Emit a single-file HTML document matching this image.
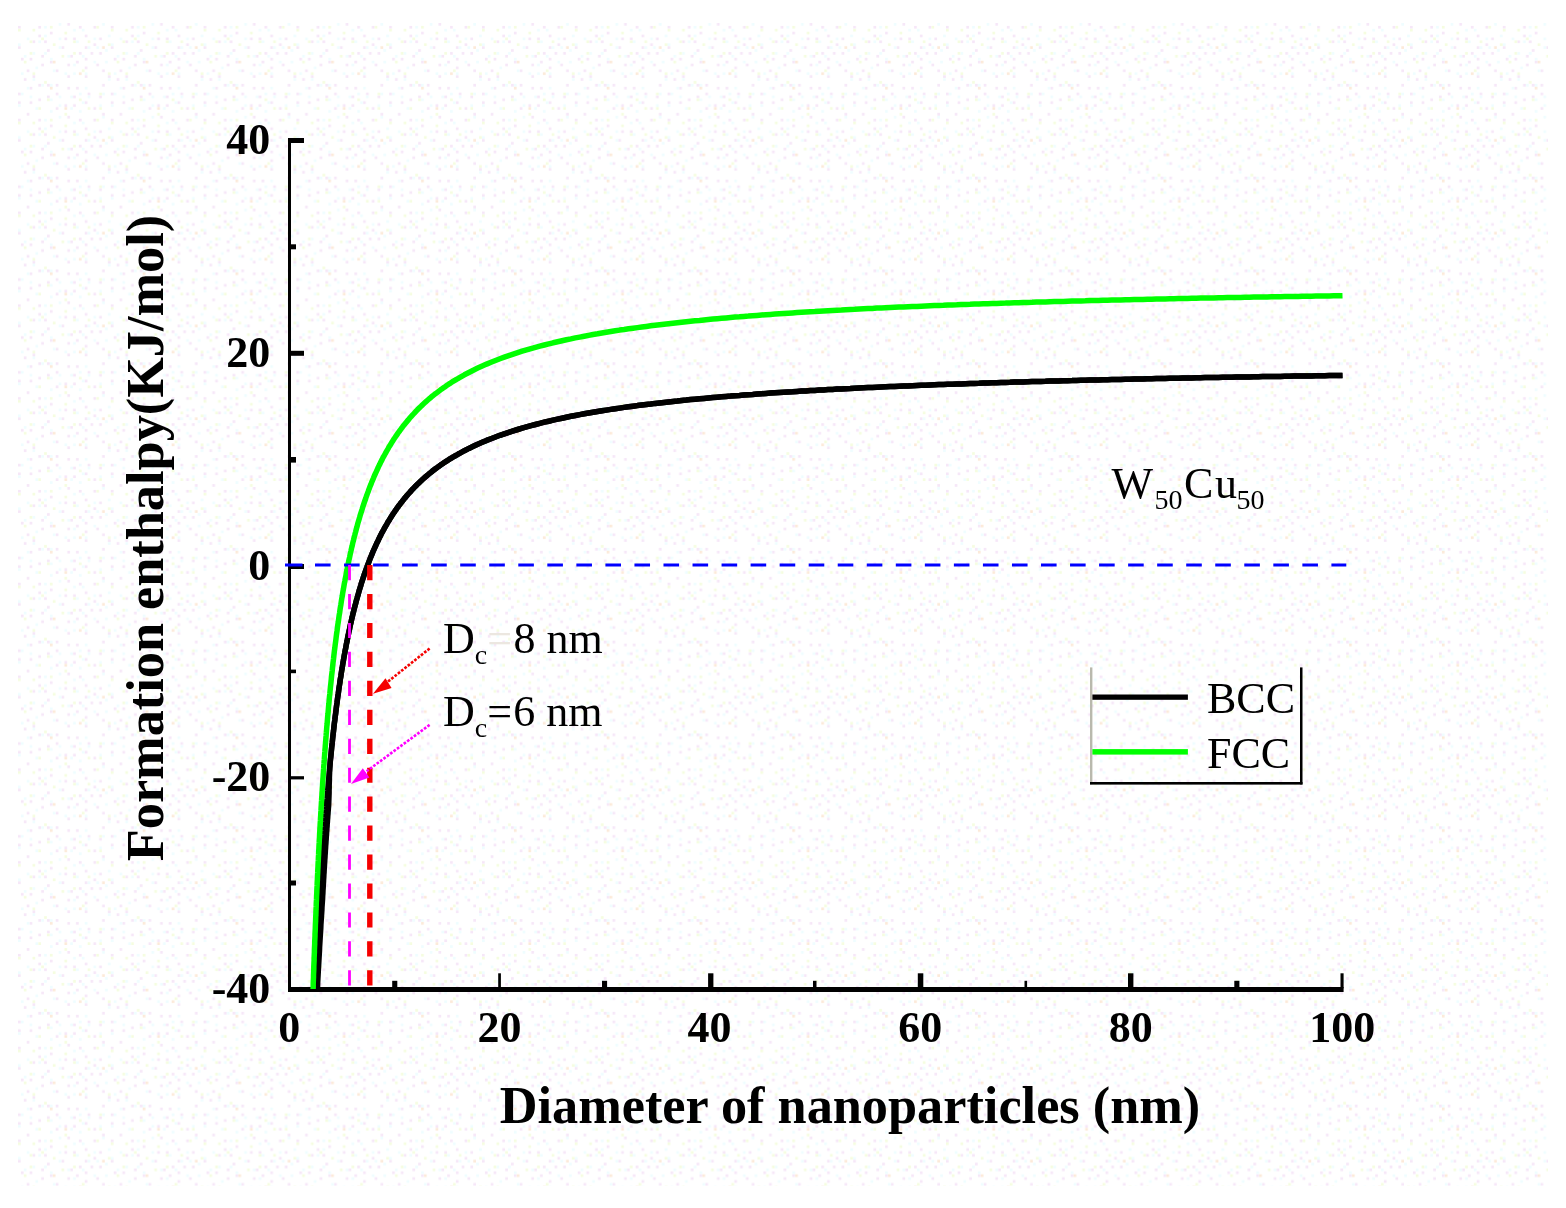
<!DOCTYPE html>
<html lang="en"><head><meta charset="utf-8"><title>Formation enthalpy vs diameter of nanoparticles</title>
<style>
html,body{margin:0;padding:0;background:#fff;}
body{width:1566px;height:1208px;overflow:hidden;}
svg{display:block;font-family:"Liberation Serif",serif;}
.tk{font-size:44px;font-weight:bold;fill:#000;}
.tt{font-size:52.3px;font-weight:bold;fill:#000;}
.an{font-size:44px;fill:#000;}
.sb{font-size:28px;}
</style></head><body>
<svg width="1566" height="1208" viewBox="0 0 1566 1208">
<defs><pattern id="nz" width="92.8" height="92.8" patternUnits="userSpaceOnUse" x="18" y="23"><rect x="66.7" y="43.5" width="2.7" height="2.7" fill="#f6e7f8"/><rect x="46.4" y="81.2" width="2.7" height="2.7" fill="#f6e7f8"/><rect x="14.5" y="52.2" width="2.7" height="2.7" fill="#f6e7f8"/><rect x="75.4" y="2.9" width="2.7" height="2.7" fill="#f6e7f8"/><rect x="81.2" y="72.5" width="2.7" height="2.7" fill="#f6e7f8"/><rect x="20.3" y="2.9" width="2.7" height="2.7" fill="#f6e7f8"/><rect x="75.4" y="84.1" width="2.7" height="2.7" fill="#f6e7f8"/><rect x="2.9" y="34.8" width="2.7" height="2.7" fill="#f6e7f8"/><rect x="20.3" y="75.4" width="2.7" height="2.7" fill="#f6e7f8"/><rect x="26.1" y="17.4" width="2.7" height="2.7" fill="#f6e7f8"/><rect x="84.1" y="89.9" width="2.7" height="2.7" fill="#f6e7f8"/><rect x="0.0" y="23.2" width="2.7" height="2.7" fill="#f6e7f8"/><rect x="66.7" y="78.3" width="2.7" height="2.7" fill="#f6e7f8"/><rect x="37.7" y="46.4" width="2.7" height="2.7" fill="#f6e7f8"/><rect x="46.4" y="14.5" width="2.7" height="2.7" fill="#f6e7f8"/><rect x="69.6" y="69.6" width="2.7" height="2.7" fill="#f6e7f8"/><rect x="49.3" y="63.8" width="2.7" height="2.7" fill="#f6e7f8"/><rect x="78.3" y="40.6" width="2.7" height="2.7" fill="#f6e7f8"/><rect x="29.0" y="60.9" width="2.7" height="2.7" fill="#f6e7f8"/><rect x="49.3" y="0.0" width="2.7" height="2.7" fill="#f6e7f8"/><rect x="52.2" y="31.9" width="2.7" height="2.7" fill="#f6e7f8"/><rect x="23.2" y="31.9" width="2.7" height="2.7" fill="#f6e7f8"/><rect x="11.6" y="78.3" width="2.7" height="2.7" fill="#f6e7f8"/><rect x="72.5" y="29.0" width="2.7" height="2.7" fill="#f6e7f8"/><rect x="0.0" y="69.6" width="2.7" height="2.7" fill="#f6e7f8"/><rect x="58.0" y="63.8" width="2.7" height="2.7" fill="#f6e7f8"/><rect x="20.3" y="11.6" width="2.7" height="2.7" fill="#f6e7f8"/><rect x="55.1" y="72.5" width="2.7" height="2.7" fill="#f6e7f8"/><rect x="37.7" y="60.9" width="2.7" height="2.7" fill="#f6e7f8"/><rect x="66.7" y="11.6" width="2.7" height="2.7" fill="#f6e7f8"/><rect x="66.7" y="34.8" width="2.7" height="2.7" fill="#f6e7f8"/><rect x="58.0" y="37.7" width="2.7" height="2.7" fill="#f6e7f8"/><rect x="14.5" y="17.4" width="2.7" height="2.7" fill="#f6e7f8"/><rect x="84.1" y="60.9" width="2.7" height="2.7" fill="#f6e7f8"/><rect x="31.9" y="37.7" width="2.7" height="2.7" fill="#f6e7f8"/><rect x="49.3" y="40.6" width="2.7" height="2.7" fill="#f6e7f8"/><rect x="37.7" y="84.1" width="2.7" height="2.7" fill="#f6e7f8"/><rect x="31.9" y="8.7" width="2.7" height="2.7" fill="#f6e7f8"/><rect x="0.0" y="2.9" width="2.7" height="2.7" fill="#f6e7f8"/><rect x="49.3" y="52.2" width="2.7" height="2.7" fill="#f6e7f8"/><rect x="43.5" y="23.2" width="2.7" height="2.7" fill="#f6e7f8"/><rect x="11.6" y="34.8" width="2.7" height="2.7" fill="#f6e7f8"/><rect x="8.7" y="46.4" width="2.7" height="2.7" fill="#f6e7f8"/><rect x="66.7" y="23.2" width="2.7" height="2.7" fill="#f6e7f8"/><rect x="75.4" y="20.3" width="2.7" height="2.7" fill="#f6e7f8"/><rect x="29.0" y="72.5" width="2.7" height="2.7" fill="#f6e7f8"/><rect x="5.8" y="55.1" width="2.7" height="2.7" fill="#f6e7f8"/><rect x="37.7" y="69.6" width="2.7" height="2.7" fill="#f6e7f8"/><rect x="81.2" y="29.0" width="2.7" height="2.7" fill="#f6e7f8"/><rect x="0.0" y="78.3" width="2.7" height="2.7" fill="#f6e7f8"/><rect x="89.9" y="52.2" width="2.7" height="2.7" fill="#f6e7f8"/><rect x="81.2" y="14.5" width="2.7" height="2.7" fill="#f6e7f8"/><rect x="84.1" y="46.4" width="2.7" height="2.7" fill="#f6e7f8"/><rect x="60.9" y="29.0" width="2.7" height="2.7" fill="#f6e7f8"/><rect x="8.7" y="89.9" width="2.7" height="2.7" fill="#f6e7f8"/><rect x="29.0" y="26.1" width="2.7" height="2.7" fill="#f6e7f8"/><rect x="55.1" y="14.5" width="2.7" height="2.7" fill="#f6e7f8"/><rect x="23.2" y="40.6" width="2.7" height="2.7" fill="#f6e7f8"/><rect x="11.6" y="63.8" width="2.7" height="2.7" fill="#f6e7f8"/><rect x="66.7" y="52.2" width="2.7" height="2.7" fill="#f6e7f8"/><rect x="55.1" y="81.2" width="2.7" height="2.7" fill="#f6e7f8"/><rect x="20.3" y="60.9" width="2.7" height="2.7" fill="#f6e7f8"/><rect x="60.9" y="2.9" width="2.7" height="2.7" fill="#f6e7f8"/><rect x="55.1" y="49.3" width="2.7" height="2.7" fill="#effdff"/><rect x="14.5" y="55.1" width="2.7" height="2.7" fill="#effdff"/><rect x="75.4" y="37.7" width="2.7" height="2.7" fill="#effdff"/><rect x="40.6" y="72.5" width="2.7" height="2.7" fill="#effdff"/><rect x="84.1" y="0.0" width="2.7" height="2.7" fill="#effdff"/><rect x="8.7" y="63.8" width="2.7" height="2.7" fill="#effdff"/><rect x="46.4" y="49.3" width="2.7" height="2.7" fill="#effdff"/><rect x="87.0" y="26.1" width="2.7" height="2.7" fill="#effdff"/><rect x="8.7" y="14.5" width="2.7" height="2.7" fill="#effdff"/><rect x="60.9" y="69.6" width="2.7" height="2.7" fill="#effdff"/><rect x="34.8" y="46.4" width="2.7" height="2.7" fill="#effdff"/><rect x="26.1" y="29.0" width="2.7" height="2.7" fill="#effdff"/><rect x="78.3" y="23.2" width="2.7" height="2.7" fill="#effdff"/><rect x="2.9" y="69.6" width="2.7" height="2.7" fill="#effdff"/><rect x="89.9" y="11.6" width="2.7" height="2.7" fill="#effdff"/><rect x="66.7" y="49.3" width="2.7" height="2.7" fill="#effdff"/><rect x="17.4" y="84.1" width="2.7" height="2.7" fill="#effdff"/><rect x="31.9" y="87.0" width="2.7" height="2.7" fill="#effdff"/><rect x="87.0" y="37.7" width="2.7" height="2.7" fill="#effdff"/><rect x="58.0" y="17.4" width="2.7" height="2.7" fill="#effdff"/><rect x="31.9" y="34.8" width="2.7" height="2.7" fill="#effdff"/><rect x="49.3" y="31.9" width="2.7" height="2.7" fill="#effdff"/><rect x="31.9" y="60.9" width="2.7" height="2.7" fill="#effdff"/><rect x="55.1" y="5.8" width="2.7" height="2.7" fill="#effdff"/><rect x="26.1" y="11.6" width="2.7" height="2.7" fill="#effdff"/><rect x="52.2" y="84.1" width="2.7" height="2.7" fill="#effdff"/><rect x="84.1" y="69.6" width="2.7" height="2.7" fill="#effdff"/><rect x="75.4" y="14.5" width="2.7" height="2.7" fill="#effdff"/><rect x="20.3" y="17.4" width="2.7" height="2.7" fill="#effdff"/><rect x="5.8" y="31.9" width="2.7" height="2.7" fill="#effdff"/><rect x="63.8" y="78.3" width="2.7" height="2.7" fill="#effdff"/><rect x="63.8" y="31.9" width="2.7" height="2.7" fill="#effdff"/><rect x="40.6" y="23.2" width="2.7" height="2.7" fill="#effdff"/><rect x="17.4" y="43.5" width="2.7" height="2.7" fill="#effdff"/><rect x="81.2" y="81.2" width="2.7" height="2.7" fill="#effdff"/><rect x="55.1" y="40.6" width="2.7" height="2.7" fill="#effdff"/><rect x="23.2" y="60.9" width="2.7" height="2.7" fill="#effdff"/><rect x="26.1" y="2.9" width="2.7" height="2.7" fill="#effdff"/><rect x="89.9" y="55.1" width="2.7" height="2.7" fill="#effdff"/><rect x="40.6" y="14.5" width="2.7" height="2.7" fill="#effdff"/><rect x="31.9" y="75.4" width="2.7" height="2.7" fill="#effdff"/><rect x="52.2" y="72.5" width="2.7" height="2.7" fill="#effdff"/><rect x="63.8" y="5.8" width="2.7" height="2.7" fill="#effdff"/><rect x="69.6" y="72.5" width="2.7" height="2.7" fill="#effdff"/><rect x="69.6" y="23.2" width="2.7" height="2.7" fill="#effdff"/><rect x="14.5" y="29.0" width="2.7" height="2.7" fill="#effdff"/><rect x="40.6" y="0.0" width="2.7" height="2.7" fill="#effdff"/><rect x="11.6" y="72.5" width="2.7" height="2.7" fill="#effdff"/><rect x="66.7" y="63.8" width="2.7" height="2.7" fill="#effdff"/><rect x="60.9" y="87.0" width="2.7" height="2.7" fill="#effdff"/><rect x="40.6" y="81.2" width="2.7" height="2.7" fill="#effdff"/><rect x="0.0" y="81.2" width="2.7" height="2.7" fill="#effdff"/><rect x="2.9" y="49.3" width="2.7" height="2.7" fill="#effdff"/><rect x="0.0" y="20.3" width="2.7" height="2.7" fill="#effdff"/><rect x="89.9" y="49.3" width="2.7" height="2.7" fill="#f5fde0"/><rect x="81.2" y="69.6" width="2.7" height="2.7" fill="#f5fde0"/><rect x="5.8" y="37.7" width="2.7" height="2.7" fill="#f5fde0"/><rect x="14.5" y="5.8" width="2.7" height="2.7" fill="#f5fde0"/><rect x="11.6" y="29.0" width="2.7" height="2.7" fill="#f5fde0"/><rect x="46.4" y="8.7" width="2.7" height="2.7" fill="#f5fde0"/><rect x="55.1" y="17.4" width="2.7" height="2.7" fill="#f5fde0"/><rect x="63.8" y="46.4" width="2.7" height="2.7" fill="#f5fde0"/><rect x="23.2" y="14.5" width="2.7" height="2.7" fill="#f5fde0"/><rect x="60.9" y="75.4" width="2.7" height="2.7" fill="#f5fde0"/><rect x="69.6" y="84.1" width="2.7" height="2.7" fill="#f5fde0"/><rect x="0.0" y="5.8" width="2.7" height="2.7" fill="#f5fde0"/><rect x="81.2" y="84.1" width="2.7" height="2.7" fill="#f5fde0"/><rect x="46.4" y="89.9" width="2.7" height="2.7" fill="#f5fde0"/><rect x="26.1" y="58.0" width="2.7" height="2.7" fill="#f5fde0"/><rect x="11.6" y="17.4" width="2.7" height="2.7" fill="#f5fde0"/><rect x="78.3" y="2.9" width="2.7" height="2.7" fill="#f5fde0"/><rect x="43.5" y="31.9" width="2.7" height="2.7" fill="#f5fde0"/><rect x="55.1" y="29.0" width="2.7" height="2.7" fill="#f5fde0"/><rect x="20.3" y="84.1" width="2.7" height="2.7" fill="#f5fde0"/><rect x="31.9" y="2.9" width="2.7" height="2.7" fill="#f5fde0"/><rect x="69.6" y="17.4" width="2.7" height="2.7" fill="#f5fde0"/><rect x="14.5" y="49.3" width="2.7" height="2.7" fill="#f5fde0"/><rect x="89.9" y="20.3" width="2.7" height="2.7" fill="#f5fde0"/><rect x="29.0" y="75.4" width="2.7" height="2.7" fill="#f5fde0"/><rect x="34.8" y="20.3" width="2.7" height="2.7" fill="#f5fde0"/><rect x="31.9" y="63.8" width="2.7" height="2.7" fill="#fcead9"/><rect x="34.8" y="37.7" width="2.7" height="2.7" fill="#fcead9"/><rect x="60.9" y="49.3" width="2.7" height="2.7" fill="#fcead9"/><rect x="46.4" y="84.1" width="2.7" height="2.7" fill="#fcead9"/><rect x="84.1" y="23.2" width="2.7" height="2.7" fill="#fcead9"/></pattern></defs>
<rect x="0" y="0" width="1566" height="1208" fill="#fff"/>
<rect x="18" y="23" width="1530" height="1163" fill="url(#nz)"/>
<g fill="#000">
<rect x="288" y="138" width="3" height="854"/>
<rect x="288" y="987" width="1055.6" height="5"/>
<rect x="288" y="138.0" width="16" height="5"/>
<rect x="288" y="350.8" width="16" height="5"/>
<rect x="288" y="564.0" width="16" height="5"/>
<rect x="288" y="776.2" width="16" height="3.2"/>
<rect x="288" y="244.3" width="8" height="5"/>
<rect x="288" y="457.0" width="8" height="5.6"/>
<rect x="288" y="669.6" width="8" height="3.6"/>
<rect x="288" y="880.5" width="8" height="5"/>
<rect x="498.2" y="973.3" width="2.7" height="15"/>
<rect x="708.1" y="973.3" width="5.3" height="15"/>
<rect x="917.8" y="973.3" width="5.5" height="15"/>
<rect x="1128" y="973.3" width="5.4" height="15"/>
<rect x="1340.5" y="973.3" width="3.1" height="15"/>
<rect x="392.2" y="980.8" width="5.1" height="8"/>
<rect x="602" y="980.8" width="5.1" height="8"/>
<rect x="813" y="980.8" width="3.5" height="8"/>
<rect x="1024.5" y="980.8" width="2.6" height="8"/>
<rect x="1234.3" y="980.8" width="5.1" height="8"/>
</g>
<text class="tk" x="270.3" y="153.5" text-anchor="end">40</text>
<text class="tk" x="270.3" y="366.5" text-anchor="end">20</text>
<text class="tk" x="270.3" y="579.5" text-anchor="end">0</text>
<text class="tk" x="270.3" y="790.7" text-anchor="end">-20</text>
<text class="tk" x="270.3" y="1002.5" text-anchor="end">-40</text>
<text class="tk" x="289.3" y="1042" text-anchor="middle">0</text>
<text class="tk" x="499.5" y="1042" text-anchor="middle">20</text>
<text class="tk" x="709.5" y="1042" text-anchor="middle">40</text>
<text class="tk" x="920.3" y="1042" text-anchor="middle">60</text>
<text class="tk" x="1130.7" y="1042" text-anchor="middle">80</text>
<text class="tk" x="1342.3" y="1042" text-anchor="middle">100</text>
<text class="tt" x="850" y="1122.8" text-anchor="middle">Diameter of nanoparticles (nm)</text>
<text class="tt" transform="translate(162.5 538) rotate(-90)" text-anchor="middle">Formation enthalpy(KJ/mol)</text>
<path d="M316.2,989.0 L316.3,985.9 L316.5,982.1 L316.6,978.4 L316.8,974.8 L316.9,971.2 L317.1,967.6 L317.2,964.1 L317.4,960.6 L317.5,957.2 L317.7,953.8 L317.8,950.4 L318.0,947.1 L318.1,943.8 L318.3,940.5 L318.4,937.3 L318.6,934.1 L318.7,931.0 L318.9,927.8 L319.0,924.8 L319.2,921.7 L319.3,918.7 L319.5,915.7 L319.6,912.8 L319.8,909.9 L319.9,907.0 L320.1,904.1 L320.2,901.3 L320.4,898.5 L320.5,895.7 L320.7,893.0 L320.8,890.3 L321.0,887.6 L321.1,884.9 L321.3,882.3 L321.4,879.7 L321.6,877.1 L321.7,874.5 L321.9,872.0 L322.0,869.5 L322.2,867.0 L322.3,864.6 L322.5,862.1 L322.6,859.7 L322.8,857.3 L322.9,855.0 L323.1,852.6 L323.2,850.3 L323.4,848.0 L323.5,845.7 L323.7,843.5 L323.8,841.2 L324.0,839.0 L324.1,836.8 L324.3,834.7 L324.4,832.5 L324.6,830.4 L324.7,828.3 L324.9,826.2 L325.0,824.1 L325.2,822.0 L325.3,820.0 L325.5,818.0 L325.6,816.0 L325.8,814.0 L325.9,812.0 L326.1,810.0 L326.2,808.1 L326.4,806.2 L326.5,804.3 L326.7,802.4 L326.8,800.5 L327.0,798.7 L327.2,795.9 L327.4,793.2 L327.7,790.5 L327.9,787.9 L328.1,785.2 L328.3,782.6 L328.6,780.1 L328.8,777.6 L329.0,775.1 L329.2,772.6 L329.5,770.2 L329.7,767.7 L329.9,765.4 L330.4,760.1 L330.9,755.7 L331.3,751.4 L331.7,747.2 L332.2,743.1 L332.6,739.0 L333.0,735.1 L333.5,731.2 L333.9,727.4 L334.3,723.7 L334.8,720.1 L335.2,716.5 L335.7,713.0 L336.1,709.6 L336.5,706.2 L337.0,702.9 L337.4,699.7 L337.8,696.5 L338.3,693.4 L338.7,690.4 L339.1,687.4 L339.6,684.4 L340.0,681.5 L340.4,678.7 L340.9,675.9 L341.3,673.1 L341.7,670.4 L342.2,667.8 L342.6,665.2 L343.0,662.6 L343.5,660.1 L343.9,657.6 L344.3,655.2 L344.8,652.8 L345.2,650.4 L345.7,648.1 L346.1,645.8 L346.5,643.6 L347.0,641.4 L347.4,639.2 L347.8,637.0 L348.3,634.9 L348.7,632.8 L349.1,630.8 L349.6,628.8 L350.0,626.8 L350.4,624.8 L350.9,622.9 L351.3,621.0 L351.7,619.1 L352.2,617.3 L352.6,615.4 L353.0,613.6 L353.5,611.9 L353.9,610.1 L354.3,608.4 L354.8,606.7 L355.2,605.0 L355.7,603.4 L356.1,601.7 L356.5,600.1 L357.0,598.5 L357.4,597.0 L358.3,593.9 L359.1,590.9 L360.0,588.0 L360.9,585.1 L361.7,582.3 L362.6,579.6 L363.5,577.0 L364.3,574.4 L365.2,571.9 L366.1,569.4 L367.0,567.0 L367.8,564.7 L368.7,562.4 L369.6,560.1 L370.4,557.9 L371.3,555.8 L372.2,553.7 L373.0,551.6 L373.9,549.6 L374.8,547.6 L375.7,545.7 L376.5,543.8 L377.4,542.0 L378.3,540.2 L379.1,538.4 L380.0,536.6 L380.9,534.9 L381.7,533.2 L382.6,531.6 L383.5,530.0 L384.3,528.4 L385.2,526.8 L386.1,525.3 L387.0,523.8 L387.8,522.3 L388.7,520.9 L389.6,519.5 L390.4,518.1 L391.3,516.7 L392.2,515.3 L393.0,514.0 L393.9,512.7 L394.8,511.4 L395.7,510.2 L396.5,508.9 L397.4,507.7 L398.3,506.5 L399.1,505.3 L400.0,504.2 L400.9,503.0 L402.2,501.4 L403.5,499.7 L404.8,498.1 L406.1,496.6 L407.4,495.0 L408.7,493.5 L410.0,492.1 L411.3,490.6 L412.6,489.2 L413.9,487.9 L415.2,486.5 L416.5,485.2 L417.8,483.9 L419.1,482.7 L420.4,481.4 L421.7,480.2 L423.0,479.0 L424.3,477.9 L425.7,476.7 L427.0,475.6 L428.3,474.5 L429.6,473.4 L430.9,472.4 L432.2,471.3 L433.5,470.3 L434.8,469.3 L436.1,468.3 L437.4,467.4 L438.7,466.4 L440.0,465.5 L441.3,464.6 L442.6,463.7 L443.9,462.8 L445.2,461.9 L446.5,461.1 L447.8,460.3 L449.1,459.4 L450.4,458.6 L451.7,457.8 L453.0,457.0 L454.3,456.3 L455.7,455.5 L457.0,454.8 L458.3,454.0 L459.6,453.3 L464.4,450.7 L468.9,448.4 L473.3,446.3 L477.7,444.2 L482.2,442.3 L486.6,440.4 L491.0,438.7 L495.5,437.0 L499.9,435.3 L504.3,433.8 L508.8,432.3 L513.2,430.9 L517.7,429.5 L522.1,428.1 L526.5,426.9 L531.0,425.6 L535.4,424.5 L539.8,423.3 L544.3,422.2 L548.7,421.2 L553.1,420.1 L557.6,419.1 L562.0,418.2 L566.4,417.2 L570.9,416.3 L575.3,415.5 L579.7,414.6 L584.2,413.8 L588.6,413.0 L593.0,412.2 L597.5,411.5 L601.9,410.8 L606.3,410.1 L610.8,409.4 L615.2,408.7 L619.6,408.1 L624.1,407.4 L628.5,406.8 L633.0,406.2 L637.4,405.6 L641.8,405.1 L646.3,404.5 L650.7,404.0 L655.1,403.4 L659.6,402.9 L664.0,402.4 L668.4,401.9 L672.9,401.4 L677.3,401.0 L681.7,400.5 L686.2,400.1 L690.6,399.6 L695.0,399.2 L699.5,398.8 L703.9,398.4 L708.3,398.0 L712.8,397.6 L717.2,397.2 L721.6,396.8 L726.1,396.4 L730.5,396.1 L734.9,395.7 L739.4,395.4 L743.8,395.0 L748.3,394.7 L752.7,394.4 L757.1,394.0 L761.6,393.7 L766.0,393.4 L770.4,393.1 L774.9,392.8 L779.3,392.5 L783.7,392.2 L788.2,391.9 L792.6,391.7 L797.0,391.4 L801.5,391.1 L805.9,390.9 L810.3,390.6 L814.8,390.4 L819.2,390.1 L823.6,389.9 L828.1,389.6 L832.5,389.4 L836.9,389.1 L841.4,388.9 L845.8,388.7 L850.3,388.5 L854.7,388.2 L859.1,388.0 L863.6,387.8 L868.0,387.6 L872.4,387.4 L876.9,387.2 L881.3,387.0 L885.7,386.8 L890.2,386.6 L894.6,386.4 L899.0,386.2 L903.5,386.0 L907.9,385.9 L912.3,385.7 L916.8,385.5 L921.2,385.3 L925.6,385.2 L930.1,385.0 L934.5,384.8 L938.9,384.6 L943.4,384.5 L947.8,384.3 L952.2,384.2 L956.7,384.0 L961.1,383.9 L965.6,383.7 L970.0,383.5 L974.4,383.4 L978.9,383.3 L983.3,383.1 L987.7,383.0 L992.2,382.8 L996.6,382.7 L1001.0,382.5 L1005.5,382.4 L1009.9,382.3 L1014.3,382.1 L1018.8,382.0 L1023.2,381.9 L1027.6,381.8 L1032.1,381.6 L1036.5,381.5 L1040.9,381.4 L1045.4,381.3 L1049.8,381.1 L1054.2,381.0 L1058.7,380.9 L1063.1,380.8 L1067.6,380.7 L1072.0,380.6 L1076.4,380.4 L1080.9,380.3 L1085.3,380.2 L1089.7,380.1 L1094.2,380.0 L1098.6,379.9 L1103.0,379.8 L1107.5,379.7 L1111.9,379.6 L1116.3,379.5 L1120.8,379.4 L1125.2,379.3 L1129.6,379.2 L1134.1,379.1 L1138.5,379.0 L1142.9,378.9 L1147.4,378.8 L1151.8,378.7 L1156.2,378.6 L1160.7,378.5 L1165.1,378.4 L1169.5,378.3 L1174.0,378.2 L1178.4,378.2 L1182.9,378.1 L1187.3,378.0 L1191.7,377.9 L1196.2,377.8 L1200.6,377.7 L1205.0,377.6 L1209.5,377.6 L1213.9,377.5 L1218.3,377.4 L1222.8,377.3 L1227.2,377.2 L1231.6,377.2 L1236.1,377.1 L1240.5,377.0 L1244.9,376.9 L1249.4,376.9 L1253.8,376.8 L1258.2,376.7 L1262.7,376.6 L1267.1,376.6 L1271.5,376.5 L1276.0,376.4 L1280.4,376.4 L1284.8,376.3 L1289.3,376.2 L1293.7,376.1 L1298.2,376.1 L1302.6,376.0 L1307.0,375.9 L1311.5,375.9 L1315.9,375.8 L1320.3,375.7 L1324.8,375.7 L1329.2,375.6 L1333.6,375.5 L1338.1,375.5 L1342.5,375.4 L1342.5,375.4" fill="none" stroke="#000" stroke-width="5.5" stroke-linejoin="round"/>
<path d="M317.4,989.0 L317.6,985.9 L317.7,982.1 L317.9,978.4 L318.1,974.8 L318.3,971.2 L318.5,967.6 L318.7,964.1 L318.9,960.6 L319.1,957.2 L319.3,953.8 L319.5,950.4 L319.6,947.1 L319.8,943.8 L320.0,940.5 L320.2,937.3 L320.4,934.1 L320.6,931.0 L320.8,927.8 L320.9,924.8 L321.1,921.7 L321.3,918.7 L321.5,915.7 L321.7,912.8 L321.9,909.9 L322.0,907.0 L322.2,904.1 L322.4,901.3 L322.6,898.5 L322.7,895.7 L322.9,893.0 L323.0,890.3 L323.2,887.6 L323.3,884.9 L323.5,882.3 L323.6,879.7 L323.8,877.1 L323.9,874.5 L324.1,872.0 L324.2,869.5 L324.4,867.0 L324.5,864.6 L324.7,862.1 L324.8,859.7 L325.0,857.3 L325.1,855.0 L325.3,852.6 L325.4,850.3 L325.6,848.0 L325.7,845.7 L325.9,843.5 L326.0,841.2 L326.2,839.0 L326.3,836.8 L326.5,834.7 L326.6,832.5 L326.8,830.4 L326.9,828.3 L327.1,826.2 L327.2,824.1 L327.4,822.0 L327.5,820.0 L327.7,818.0 L327.8,816.0 L328.0,814.0 L328.1,812.0 L328.3,810.0 L328.4,808.1 L328.6,806.2 L328.7,804.3 L328.8,801.5 L328.9,798.7 L329.0,795.9 L329.1,793.2 L329.1,790.5 L329.2,787.9 L329.2,785.2 L329.3,782.6 L329.4,780.1 L329.4,777.6 L329.5,775.1 L329.6,772.6 L329.7,770.2 L329.8,767.7 L330.0,765.4 L330.4,760.1 L330.9,755.7 L331.3,751.4 L331.7,747.2 L332.2,743.1 L332.6,739.0 L333.0,735.1 L333.5,731.2 L333.9,727.4 L334.3,723.7 L334.8,720.1 L335.2,716.5 L335.7,713.0 L336.1,709.6 L336.5,706.2 L337.0,702.9 L337.4,699.7 L337.8,696.5 L338.3,693.4 L338.7,690.4 L339.1,687.4 L339.6,684.4 L340.0,681.5 L340.4,678.7 L340.9,675.9 L341.3,673.1 L341.7,670.4 L342.2,667.8 L342.6,665.2 L343.0,662.6 L343.5,660.1 L343.9,657.6 L344.3,655.2 L344.8,652.8 L345.2,650.4 L345.7,648.1 L346.1,645.8 L346.5,643.6 L347.0,641.4 L347.4,639.2 L347.8,637.0 L348.3,634.9 L348.7,632.8 L349.1,630.8 L349.6,628.8 L350.0,626.8 L350.4,624.8 L350.9,622.9 L351.3,621.0 L351.7,619.1 L352.2,617.3 L352.6,615.4 L353.0,613.6 L353.5,611.9 L353.9,610.1 L354.3,608.4 L354.8,606.7 L355.2,605.0 L355.7,603.4 L356.1,601.7 L356.5,600.1 L357.0,598.5 L357.4,597.0 L358.3,593.9 L359.1,590.9 L360.0,588.0 L360.9,585.1 L361.7,582.3 L362.6,579.6 L363.5,577.0 L364.3,574.4 L365.2,571.9 L366.1,569.4 L367.0,567.0 L367.8,564.7 L368.7,562.4 L369.6,560.1 L370.4,557.9 L371.3,555.8 L372.2,553.7 L373.0,551.6 L373.9,549.6 L374.8,547.6 L375.7,545.7 L376.5,543.8 L377.4,542.0 L378.3,540.2 L379.1,538.4 L380.0,536.6 L380.9,534.9 L381.7,533.2 L382.6,531.6 L383.5,530.0 L384.3,528.4 L385.2,526.8 L386.1,525.3 L387.0,523.8 L387.8,522.3 L388.7,520.9 L389.6,519.5 L390.4,518.1 L391.3,516.7 L392.2,515.3 L393.0,514.0 L393.9,512.7 L394.8,511.4 L395.7,510.2 L396.5,508.9 L397.4,507.7 L398.3,506.5 L399.1,505.3 L400.0,504.2 L400.9,503.0 L402.2,501.4 L403.5,499.7 L404.8,498.1 L406.1,496.6 L407.4,495.0 L408.7,493.5 L410.0,492.1 L411.3,490.6 L412.6,489.2 L413.9,487.9 L415.2,486.5 L416.5,485.2 L417.8,483.9 L419.1,482.7 L420.4,481.4 L421.7,480.2 L423.0,479.0 L424.3,477.9 L425.7,476.7 L427.0,475.6 L428.3,474.5 L429.6,473.4 L430.9,472.4 L432.2,471.3 L433.5,470.3 L434.8,469.3 L436.1,468.3 L437.4,467.4 L438.7,466.4 L440.0,465.5 L441.3,464.6 L442.6,463.7 L443.9,462.8 L445.2,461.9 L446.5,461.1 L447.8,460.3 L449.1,459.4 L450.4,458.6 L451.7,457.8 L453.0,457.0 L454.3,456.3 L455.7,455.5 L457.0,454.8 L458.3,454.0 L459.6,453.3 L464.4,450.7 L468.9,448.4 L473.3,446.3 L477.7,444.2 L482.2,442.3 L486.6,440.4 L491.0,438.7 L495.5,437.0 L499.9,435.3 L504.3,433.8 L508.8,432.3 L513.2,430.9 L517.7,429.5 L522.1,428.1 L526.5,426.9 L531.0,425.6 L535.4,424.5 L539.8,423.3 L544.3,422.2 L548.7,421.2 L553.1,420.1 L557.6,419.1 L562.0,418.2 L566.4,417.2 L570.9,416.3 L575.3,415.5 L579.7,414.6 L584.2,413.8 L588.6,413.0 L593.0,412.2 L597.5,411.5 L601.9,410.8 L606.3,410.1 L610.8,409.4 L615.2,408.7 L619.6,408.1 L624.1,407.4 L628.5,406.8 L633.0,406.2 L637.4,405.6 L641.8,405.1 L646.3,404.5 L650.7,404.0 L655.1,403.4 L659.6,402.9 L664.0,402.4 L668.4,401.9 L672.9,401.4 L677.3,401.0 L681.7,400.5 L686.2,400.1 L690.6,399.6 L695.0,399.2 L699.5,398.8 L703.9,398.4 L708.3,398.0 L712.8,397.6 L717.2,397.2 L721.6,396.8 L726.1,396.4 L730.5,396.1 L734.9,395.7 L739.4,395.4 L743.8,395.0 L748.3,394.7 L752.7,394.4 L757.1,394.0 L761.6,393.7 L766.0,393.4 L770.4,393.1 L774.9,392.8 L779.3,392.5 L783.7,392.2 L788.2,391.9 L792.6,391.7 L797.0,391.4 L801.5,391.1 L805.9,390.9 L810.3,390.6 L814.8,390.4 L819.2,390.1 L823.6,389.9 L828.1,389.6 L832.5,389.4 L836.9,389.1 L841.4,388.9 L845.8,388.7 L850.3,388.5 L854.7,388.2 L859.1,388.0 L863.6,387.8 L868.0,387.6 L872.4,387.4 L876.9,387.2 L881.3,387.0 L885.7,386.8 L890.2,386.6 L894.6,386.4 L899.0,386.2 L903.5,386.0 L907.9,385.9 L912.3,385.7 L916.8,385.5 L921.2,385.3 L925.6,385.2 L930.1,385.0 L934.5,384.8 L938.9,384.6 L943.4,384.5 L947.8,384.3 L952.2,384.2 L956.7,384.0 L961.1,383.9 L965.6,383.7 L970.0,383.5 L974.4,383.4 L978.9,383.3 L983.3,383.1 L987.7,383.0 L992.2,382.8 L996.6,382.7 L1001.0,382.5 L1005.5,382.4 L1009.9,382.3 L1014.3,382.1 L1018.8,382.0 L1023.2,381.9 L1027.6,381.8 L1032.1,381.6 L1036.5,381.5 L1040.9,381.4 L1045.4,381.3 L1049.8,381.1 L1054.2,381.0 L1058.7,380.9 L1063.1,380.8 L1067.6,380.7 L1072.0,380.6 L1076.4,380.4 L1080.9,380.3 L1085.3,380.2 L1089.7,380.1 L1094.2,380.0 L1098.6,379.9 L1103.0,379.8 L1107.5,379.7 L1111.9,379.6 L1116.3,379.5 L1120.8,379.4 L1125.2,379.3 L1129.6,379.2 L1134.1,379.1 L1138.5,379.0 L1142.9,378.9 L1147.4,378.8 L1151.8,378.7 L1156.2,378.6 L1160.7,378.5 L1165.1,378.4 L1169.5,378.3 L1174.0,378.2 L1178.4,378.2 L1182.9,378.1 L1187.3,378.0 L1191.7,377.9 L1196.2,377.8 L1200.6,377.7 L1205.0,377.6 L1209.5,377.6 L1213.9,377.5 L1218.3,377.4 L1222.8,377.3 L1227.2,377.2 L1231.6,377.2 L1236.1,377.1 L1240.5,377.0 L1244.9,376.9 L1249.4,376.9 L1253.8,376.8 L1258.2,376.7 L1262.7,376.6 L1267.1,376.6 L1271.5,376.5 L1276.0,376.4 L1280.4,376.4 L1284.8,376.3 L1289.3,376.2 L1293.7,376.1 L1298.2,376.1 L1302.6,376.0 L1307.0,375.9 L1311.5,375.9 L1315.9,375.8 L1320.3,375.7 L1324.8,375.7 L1329.2,375.6 L1333.6,375.5 L1338.1,375.5 L1342.5,375.4 L1342.5,375.4" fill="none" stroke="#000" stroke-width="5.5" stroke-linejoin="round"/>
<path d="M313.1,989.0 L313.2,986.4 L313.2,984.1 L313.3,981.9 L313.4,979.7 L313.5,977.5 L313.5,975.3 L313.6,973.1 L313.7,971.0 L313.8,968.8 L313.8,966.7 L313.9,964.5 L314.0,962.4 L314.1,960.3 L314.1,958.3 L314.2,956.2 L314.3,954.1 L314.4,952.1 L314.4,950.0 L314.5,948.0 L314.6,946.0 L314.7,944.0 L314.7,942.0 L314.8,940.1 L314.9,938.1 L315.0,936.1 L315.0,934.2 L315.1,932.3 L315.3,928.5 L315.4,924.7 L315.6,921.0 L315.7,917.3 L315.9,913.6 L316.0,910.0 L316.2,906.4 L316.3,902.9 L316.5,899.4 L316.6,896.0 L316.8,892.6 L316.9,889.2 L317.1,885.9 L317.2,882.6 L317.4,879.3 L317.5,876.1 L317.7,872.9 L317.8,869.7 L318.0,866.6 L318.1,863.5 L318.3,860.4 L318.4,857.4 L318.6,854.4 L318.7,851.4 L318.9,848.5 L319.0,845.6 L319.2,842.7 L319.3,839.9 L319.5,837.1 L319.6,834.3 L319.8,831.5 L319.9,828.8 L320.1,826.1 L320.2,823.4 L320.4,820.7 L320.5,818.1 L320.7,815.5 L320.8,812.9 L321.0,810.4 L321.1,807.8 L321.3,805.3 L321.4,802.8 L321.6,800.4 L321.7,797.9 L321.9,795.5 L322.0,793.1 L322.2,790.8 L322.3,788.4 L322.5,786.1 L322.6,783.8 L322.8,781.5 L322.9,779.2 L323.1,777.0 L323.2,774.8 L323.4,772.6 L323.5,770.4 L323.7,768.2 L323.8,766.1 L324.0,763.9 L324.1,761.8 L324.3,759.7 L324.4,757.7 L324.6,755.6 L324.7,753.6 L324.9,751.5 L325.0,749.5 L325.2,747.6 L325.3,745.6 L325.5,743.6 L325.6,741.7 L325.8,739.8 L325.9,737.9 L326.1,736.0 L326.2,734.1 L326.4,732.3 L326.6,729.5 L326.8,726.8 L327.1,724.1 L327.3,721.4 L327.5,718.8 L327.7,716.2 L328.0,713.6 L328.2,711.1 L328.4,708.6 L328.6,706.1 L328.9,703.7 L329.1,701.2 L329.3,698.8 L329.5,696.5 L329.8,694.1 L330.0,691.8 L330.4,687.4 L330.9,683.1 L331.3,678.9 L331.7,674.8 L332.2,670.8 L332.6,666.8 L333.0,662.9 L333.5,659.1 L333.9,655.4 L334.3,651.7 L334.8,648.2 L335.2,644.6 L335.7,641.2 L336.1,637.8 L336.5,634.5 L337.0,631.2 L337.4,628.0 L337.8,624.9 L338.3,621.8 L338.7,618.8 L339.1,615.8 L339.6,612.9 L340.0,610.0 L340.4,607.2 L340.9,604.4 L341.3,601.6 L341.7,599.0 L342.2,596.3 L342.6,593.7 L343.0,591.2 L343.5,588.6 L343.9,586.2 L344.3,583.7 L344.8,581.3 L345.2,579.0 L345.7,576.7 L346.1,574.4 L346.5,572.1 L347.0,569.9 L347.4,567.7 L347.8,565.6 L348.3,563.4 L348.7,561.3 L349.1,559.3 L349.6,557.3 L350.0,555.3 L350.4,553.3 L350.9,551.3 L351.3,549.4 L351.7,547.5 L352.2,545.7 L352.6,543.8 L353.0,542.0 L353.5,540.2 L353.9,538.5 L354.3,536.7 L354.8,535.0 L355.2,533.3 L355.7,531.7 L356.1,530.0 L356.5,528.4 L357.0,526.8 L357.4,525.2 L357.8,523.6 L358.7,520.5 L359.6,517.5 L360.4,514.6 L361.3,511.8 L362.2,509.0 L363.0,506.3 L363.9,503.6 L364.8,501.0 L365.7,498.5 L366.5,496.0 L367.4,493.6 L368.3,491.2 L369.1,488.9 L370.0,486.6 L370.9,484.4 L371.7,482.3 L372.6,480.1 L373.5,478.1 L374.3,476.0 L375.2,474.0 L376.1,472.1 L377.0,470.1 L377.8,468.3 L378.7,466.4 L379.6,464.6 L380.4,462.8 L381.3,461.1 L382.2,459.4 L383.0,457.7 L383.9,456.1 L384.8,454.5 L385.7,452.9 L386.5,451.3 L387.4,449.8 L388.3,448.3 L389.1,446.8 L390.0,445.4 L390.9,444.0 L391.7,442.6 L392.6,441.2 L393.5,439.8 L394.3,438.5 L395.2,437.2 L396.1,435.9 L397.0,434.6 L397.8,433.4 L398.7,432.2 L399.6,431.0 L400.4,429.8 L401.3,428.6 L402.2,427.5 L403.0,426.3 L404.3,424.7 L405.7,423.0 L407.0,421.4 L408.3,419.9 L409.6,418.3 L410.9,416.8 L412.2,415.4 L413.5,414.0 L414.8,412.6 L416.1,411.2 L417.4,409.8 L418.7,408.5 L420.0,407.2 L421.3,406.0 L422.6,404.7 L423.9,403.5 L425.2,402.3 L426.5,401.2 L427.8,400.0 L429.1,398.9 L430.4,397.8 L431.7,396.7 L433.0,395.6 L434.3,394.6 L435.7,393.6 L437.0,392.6 L438.3,391.6 L439.6,390.6 L440.9,389.6 L442.2,388.7 L443.5,387.8 L444.8,386.9 L446.1,386.0 L447.4,385.1 L448.7,384.2 L450.0,383.4 L451.3,382.5 L452.6,381.7 L453.9,380.9 L455.2,380.1 L456.5,379.3 L457.8,378.6 L459.1,377.8 L464.4,374.8 L468.9,372.5 L473.3,370.2 L477.7,368.1 L482.2,366.1 L486.6,364.1 L491.0,362.3 L495.5,360.5 L499.9,358.8 L504.3,357.2 L508.8,355.6 L513.2,354.1 L517.7,352.6 L522.1,351.2 L526.5,349.9 L531.0,348.6 L535.4,347.4 L539.8,346.2 L544.3,345.0 L548.7,343.9 L553.1,342.8 L557.6,341.8 L562.0,340.8 L566.4,339.8 L570.9,338.9 L575.3,337.9 L579.7,337.1 L584.2,336.2 L588.6,335.4 L593.0,334.5 L597.5,333.8 L601.9,333.0 L606.3,332.3 L610.8,331.5 L615.2,330.8 L619.6,330.1 L624.1,329.5 L628.5,328.8 L633.0,328.2 L637.4,327.6 L641.8,327.0 L646.3,326.4 L650.7,325.8 L655.1,325.3 L659.6,324.7 L664.0,324.2 L668.4,323.7 L672.9,323.2 L677.3,322.7 L681.7,322.2 L686.2,321.7 L690.6,321.2 L695.0,320.8 L699.5,320.4 L703.9,319.9 L708.3,319.5 L712.8,319.1 L717.2,318.7 L721.6,318.3 L726.1,317.9 L730.5,317.5 L734.9,317.1 L739.4,316.8 L743.8,316.4 L748.3,316.1 L752.7,315.7 L757.1,315.4 L761.6,315.0 L766.0,314.7 L770.4,314.4 L774.9,314.1 L779.3,313.8 L783.7,313.5 L788.2,313.2 L792.6,312.9 L797.0,312.6 L801.5,312.3 L805.9,312.0 L810.3,311.7 L814.8,311.5 L819.2,311.2 L823.6,311.0 L828.1,310.7 L832.5,310.4 L836.9,310.2 L841.4,310.0 L845.8,309.7 L850.3,309.5 L854.7,309.3 L859.1,309.0 L863.6,308.8 L868.0,308.6 L872.4,308.4 L876.9,308.1 L881.3,307.9 L885.7,307.7 L890.2,307.5 L894.6,307.3 L899.0,307.1 L903.5,306.9 L907.9,306.7 L912.3,306.5 L916.8,306.4 L921.2,306.2 L925.6,306.0 L930.1,305.8 L934.5,305.6 L938.9,305.4 L943.4,305.3 L947.8,305.1 L952.2,304.9 L956.7,304.8 L961.1,304.6 L965.6,304.4 L970.0,304.3 L974.4,304.1 L978.9,304.0 L983.3,303.8 L987.7,303.7 L992.2,303.5 L996.6,303.4 L1001.0,303.2 L1005.5,303.1 L1009.9,302.9 L1014.3,302.8 L1018.8,302.7 L1023.2,302.5 L1027.6,302.4 L1032.1,302.3 L1036.5,302.1 L1040.9,302.0 L1045.4,301.9 L1049.8,301.7 L1054.2,301.6 L1058.7,301.5 L1063.1,301.4 L1067.6,301.2 L1072.0,301.1 L1076.4,301.0 L1080.9,300.9 L1085.3,300.8 L1089.7,300.6 L1094.2,300.5 L1098.6,300.4 L1103.0,300.3 L1107.5,300.2 L1111.9,300.1 L1116.3,300.0 L1120.8,299.9 L1125.2,299.8 L1129.6,299.7 L1134.1,299.6 L1138.5,299.5 L1142.9,299.4 L1147.4,299.3 L1151.8,299.2 L1156.2,299.1 L1160.7,299.0 L1165.1,298.9 L1169.5,298.8 L1174.0,298.7 L1178.4,298.6 L1182.9,298.5 L1187.3,298.4 L1191.7,298.3 L1196.2,298.2 L1200.6,298.1 L1205.0,298.0 L1209.5,298.0 L1213.9,297.9 L1218.3,297.8 L1222.8,297.7 L1227.2,297.6 L1231.6,297.5 L1236.1,297.5 L1240.5,297.4 L1244.9,297.3 L1249.4,297.2 L1253.8,297.1 L1258.2,297.1 L1262.7,297.0 L1267.1,296.9 L1271.5,296.8 L1276.0,296.7 L1280.4,296.7 L1284.8,296.6 L1289.3,296.5 L1293.7,296.5 L1298.2,296.4 L1302.6,296.3 L1307.0,296.2 L1311.5,296.2 L1315.9,296.1 L1320.3,296.0 L1324.8,296.0 L1329.2,295.9 L1333.6,295.8 L1338.1,295.8 L1342.5,295.7 L1342.5,295.7" fill="none" stroke="#00ff00" stroke-width="5.5" stroke-linejoin="round"/>
<rect x="285" y="563.5" width="17.5" height="3" fill="#0000ff"/>
<line x1="315" y1="565" x2="1346.3" y2="565" stroke="#0000ff" stroke-width="3" stroke-dasharray="15.6 13.44"/>
<line x1="349.5" y1="565" x2="349.5" y2="987" stroke="#ff00ff" stroke-width="2.8" stroke-dasharray="15.2 13.75"/>
<line x1="369.8" y1="565" x2="369.8" y2="987" stroke="#f50000" stroke-width="5.4" stroke-dasharray="15.2 13.75"/>
<line x1="429.6" y1="648.5" x2="386" y2="683.2" stroke="#f50000" stroke-width="2.6" stroke-dasharray="2.7 1.5"/>
<polygon points="373,693.8 385.5,678.3 391.6,688" fill="#f50000"/>
<line x1="429.6" y1="724.9" x2="362" y2="774.6" stroke="#ff00ff" stroke-width="2.6" stroke-dasharray="2.7 1.5"/>
<polygon points="351,784 362.8,768.2 369.4,777.6" fill="#ff00ff"/>
<text class="an" x="443" y="653">D<tspan class="sb" dy="11">c</tspan><tspan dy="-11" fill="#ece7e0">=</tspan><tspan dx="1.4">8 nm</tspan></text>
<text class="an" x="443" y="726">D<tspan class="sb" dy="11">c</tspan><tspan dy="-11">=</tspan><tspan dx="1.2">6 nm</tspan></text>
<text class="an" x="1111.5" y="497.5">W<tspan class="sb" x="1154.5" dy="11">50</tspan><tspan x="1184" dy="-11">C</tspan><tspan x="1215">u</tspan><tspan class="sb" x="1236.5" dy="11">50</tspan></text>
<rect x="1090" y="667.4" width="2.4" height="117" fill="#b9b9ad"/>
<rect x="1300" y="667.4" width="2.5" height="117" fill="#000"/>
<rect x="1090" y="782" width="212.5" height="2.6" fill="#000"/>
<rect x="1092.4" y="694.5" width="95.5" height="5.3" fill="#000"/>
<rect x="1092.4" y="749.1" width="95.5" height="5.5" fill="#00ff00"/>
<text class="an" x="1207" y="713.4">BCC</text>
<text class="an" x="1207" y="767.9">FCC</text>
</svg></body></html>
